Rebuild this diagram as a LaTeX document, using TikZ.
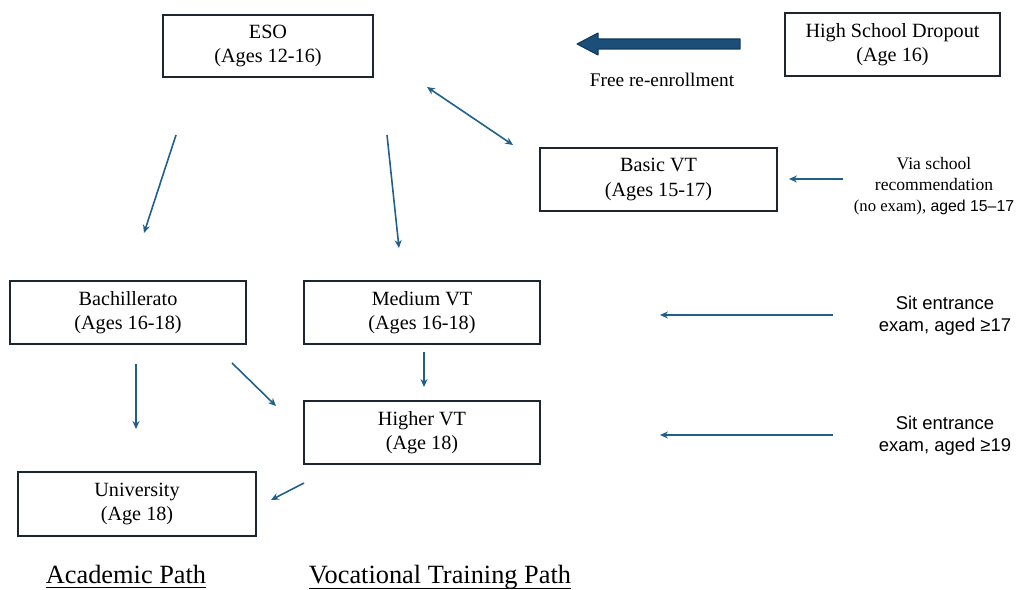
\documentclass[tikz,border=0pt]{standalone}
\usepackage{fontspec}
\setmainfont{Liberation Serif}
\newfontfamily\labsans{Liberation Sans}
\usetikzlibrary{arrows.meta}
\definecolor{arrowblue}{HTML}{1F5F8B}
\definecolor{bigblue}{HTML}{1B4F7A}
\definecolor{bigedge}{HTML}{123A5C}
\definecolor{boxedge}{HTML}{1C2530}
\begin{document}
\begin{tikzpicture}[x=0.02cm,y=-0.02cm,
  stagebox/.style={draw=boxedge, line width=1.1pt, align=center, inner sep=0pt,
    font=\fontsize{11.5}{14}\selectfont},
  link/.style={draw=arrowblue, line width=0.9pt, -{Stealth[length=4.5pt,width=4pt]}},
  dlink/.style={draw=arrowblue, line width=0.9pt, {Stealth[length=4.5pt,width=4pt]}-{Stealth[length=4.5pt,width=4pt]}},
  sidenote/.style={align=center, font=\labsans\fontsize{10.5}{12.5}\selectfont},
  serifnote/.style={align=center, font=\fontsize{11}{12.5}\selectfont},
  pathtitle/.style={font=\fontsize{15}{18}\selectfont, anchor=base, inner sep=0pt}
]
\useasboundingbox (0,0) rectangle (1016,590);

% boxes
\node[stagebox, minimum width=210*0.02cm, minimum height=62*0.02cm] (eso) at (268,46) {ESO\\(Ages 12-16)};
\node[stagebox, minimum width=215*0.02cm, minimum height=63*0.02cm] (drop) at (892.5,44.5) {High School Dropout\\(Age 16)};
\node[stagebox, minimum width=237*0.02cm, minimum height=63*0.02cm] (basic) at (658.5,179.5) {Basic VT\\(Ages 15-17)};
\node[stagebox, minimum width=236*0.02cm, minimum height=63*0.02cm] (bach) at (128,312.5) {Bachillerato\\(Ages 16-18)};
\node[stagebox, minimum width=236*0.02cm, minimum height=63*0.02cm] (medium) at (422,312.5) {Medium VT\\(Ages 16-18)};
\node[stagebox, minimum width=236*0.02cm, minimum height=63*0.02cm] (higher) at (422,432.5) {Higher VT\\(Age 18)};
\node[stagebox, minimum width=238*0.02cm, minimum height=64*0.02cm] (uni) at (137,504) {University\\(Age 18)};

% notes
\node[serifnote] (free) at (662,80) {Free re-enrollment};
\node[align=center, font=\fontsize{10}{12}\selectfont] (via) at (934,186) {Via school\\recommendation\\{\fontsize{9.5}{12}\selectfont(no exam),} {\labsans\fontsize{9}{12}\selectfont aged 15–17}};
\node[sidenote] (sit1) at (945,316) {Sit entrance\\exam, aged ≥17};
\node[sidenote] (sit2) at (945,436) {Sit entrance\\exam, aged ≥19};

% path titles
\node[pathtitle] (acad) at (126,583) {Academic Path};
\node[pathtitle] (voc) at (440,583) {Vocational Training Path};
\draw[line width=0.6pt] ([yshift=-2.6pt]acad.base west) -- ([yshift=-2.6pt]acad.base east);
\draw[line width=0.6pt] ([yshift=-3.1pt]voc.base west) -- ([yshift=-3.1pt]voc.base east);

% connector end points
\coordinate (bigS) at (740,44);
\coordinate (bigE) at (577,44);
\coordinate (dA) at (427,87);
\coordinate (dB) at (513,145);
\coordinate (viaS) at (843,179);
\coordinate (viaE) at (789,179);
\coordinate (e1S) at (176,135);
\coordinate (e1E) at (144,233);
\coordinate (e2S) at (387,135);
\coordinate (e2E) at (399,248);
\coordinate (s1S) at (833,315);
\coordinate (s1E) at (660,315);
\coordinate (mS) at (424,352);
\coordinate (mE) at (424,387);
\coordinate (bS) at (136,364);
\coordinate (bE) at (136,429);
\coordinate (bdS) at (232,363);
\coordinate (bdE) at (276,406);
\coordinate (s2S) at (833,435);
\coordinate (s2E) at (660,435);
\coordinate (hS) at (304,483);
\coordinate (hE) at (271,500);

% big arrow
\draw[fill=bigblue, draw=bigedge, line width=0.6pt, line join=round]
  (bigS) ++(0,-5) -- (598,39) -- (598,33) -- (bigE) -- (598,55) -- (598,49) -- (740,49) -- cycle;

% thin arrows
\draw[dlink] (dA) -- (dB);
\draw[link] (viaS) -- (viaE);
\draw[link] (e1S) -- (e1E);
\draw[link] (e2S) -- (e2E);
\draw[link] (s1S) -- (s1E);
\draw[link] (mS) -- (mE);
\draw[link] (bS) -- (bE);
\draw[link] (bdS) -- (bdE);
\draw[link] (s2S) -- (s2E);
\draw[link] (hS) -- (hE);
\end{tikzpicture}
\end{document}
